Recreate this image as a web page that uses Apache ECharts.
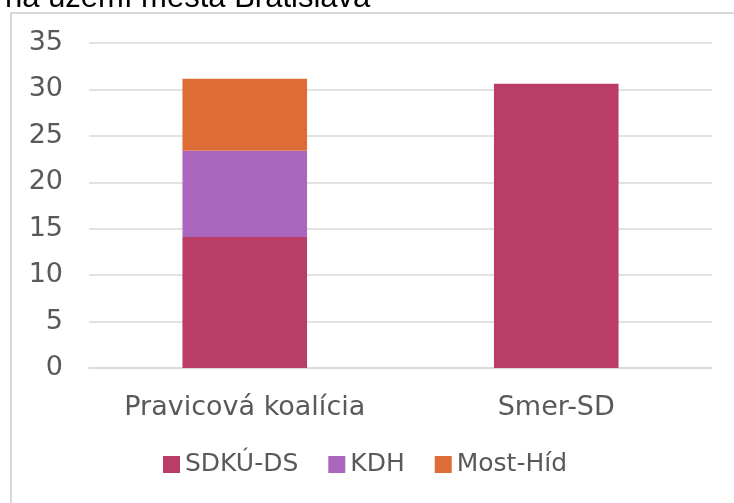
<!DOCTYPE html>
<html>
<head>
<meta charset="utf-8">
<script src="https://cdn.jsdelivr.net/npm/echarts@6/dist/echarts.min.js"></script>
<style>
  html, body { margin: 0; padding: 0; background: #fff; }
  #chart { width: 734px; height: 503px; }
</style>
</head>
<body>
<div id="chart"></div>
<script>
const categories = ["Pravicová koalícia", "Smer-SD"];
const sdku = [14.1, 30.6];
const kdh = [9.3, null];
const most = [7.75, null];
const yTicks = { min: 0, max: 35, step: 5 };

const colors = ["#b93d67", "#ab66bd", "#de6c36"];
const gray = "#595959";

const chart = echarts.init(document.getElementById("chart"));

function bar(name, data, i) {
  return {
    name: name,
    type: "bar",
    stack: "total",
    barWidth: "40%",
    data: data,
    itemStyle: { color: colors[i] },
    animation: false,
  };
}

chart.setOption({
  title: {
    text: "na území mesta Bratislava",
    left: 0,
    top: -22,
    textStyle: {
      fontFamily: "Liberation Sans",
      fontSize: 31,
      fontWeight: "normal",
      color: "#000",
    },
  },
  graphic: [
    {
      type: "rect",
      shape: { x: 11, y: 13, width: 900, height: 700 },
      style: { fill: "none", stroke: "#d9d9d9", lineWidth: 2 },
      silent: true,
      z: -1,
    },
  ],
  legend: {
    bottom: 21,
    left: 158,
    itemWidth: 17,
    itemHeight: 17,
    itemGap: 30,
    icon: "rect",
    textStyle: { fontFamily: "DejaVu Sans", fontSize: 25, color: gray },
  },
  grid: { left: 89, right: 22, top: 43, bottom: 135 },
  xAxis: {
    type: "category",
    data: categories,
    axisTick: { show: false },
    axisLine: { lineStyle: { color: "#d9d9d9", width: 1.5 } },
    axisLabel: {
      interval: 0,
      fontFamily: "DejaVu Sans",
      fontSize: 27,
      color: gray,
      margin: 26,
    },
  },
  yAxis: {
    type: "value",
    min: yTicks.min,
    max: yTicks.max,
    interval: yTicks.step,
    axisLine: { show: false },
    axisTick: { show: false },
    splitLine: { lineStyle: { color: "#d9d9d9", width: 1.5 } },
    axisLabel: {
      fontFamily: "DejaVu Sans",
      fontSize: 27,
      color: gray,
      margin: 26,
    },
  },
  series: [
    bar("SDKÚ-DS", sdku, 0),
    bar("KDH", kdh, 1),
    bar("Most-Híd", most, 2),
  ],
});
</script>
</body>
</html>
